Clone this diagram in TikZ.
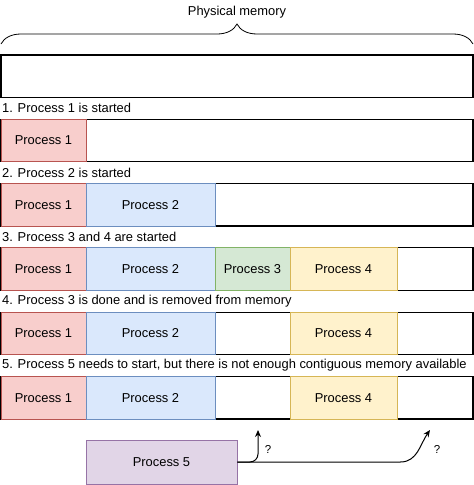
\documentclass[tikz,border=0pt]{standalone}
\usepackage{fontspec}
\setmainfont{Liberation Sans}
\usetikzlibrary{arrows.meta,decorations.pathreplacing}
\definecolor{redfill}{HTML}{F8CECC}\definecolor{redline}{HTML}{B85450}
\definecolor{bluefill}{HTML}{DAE8FC}\definecolor{blueline}{HTML}{6C8EBF}
\definecolor{greenfill}{HTML}{D5E8D4}\definecolor{greenline}{HTML}{82B366}
\definecolor{yellowfill}{HTML}{FFF2CC}\definecolor{yellowline}{HTML}{D6B656}
\definecolor{purplefill}{HTML}{E1D5E7}\definecolor{purpleline}{HTML}{9673A6}
\begin{document}
\begin{tikzpicture}[x=1pt,y=-1pt,
		font=\fontsize{12.9}{15}\selectfont,
		memrow/.style={draw=black,line width=1.2pt,minimum width=472pt,minimum height=42.5pt,inner sep=0pt},
		proc/.style={draw=#1line,fill=#1fill,line width=0.8pt,minimum height=42.5pt,inner sep=0pt},
		steplabel/.style={anchor=west,inner sep=0pt}]
			\useasboundingbox (0,0) rectangle (474,485);
			% physical memory
			\node(phys) at (237,12){Physical memory};
			\draw[black,line width=0.8pt,decorate,decoration={brace,amplitude=20pt}](1,44)--(473,44);
			\node[memrow](m0) at (237,76.25){};
			% 1
			\node[steplabel](s1) at (2,108.2){1. Process 1 is started};
			\node[memrow](m1) at (237,140.5){};
			\node[proc=red,minimum width=85pt](a1) at (43.5,140.5){Process 1};
			% 2
			\node[steplabel](s2) at (2,172.5){2. Process 2 is started};
			\node[memrow](m2) at (237,204.8){};
			\node[proc=red,minimum width=85pt](a2) at (43.5,204.8){Process 1};
			\node[proc=blue,minimum width=129pt](b2) at (150.5,204.8){Process 2};
			% 3
			\node[steplabel](s3) at (2,236.8){3. Process 3 and 4 are started};
			\node[memrow](m3) at (237,269.1){};
			\node[proc=red,minimum width=85pt](a3) at (43.5,269.1){Process 1};
			\node[proc=blue,minimum width=129pt](b3) at (150.5,269.1){Process 2};
			\node[proc=green,minimum width=75pt](c3) at (252.5,269.1){Process 3};
			\node[proc=yellow,minimum width=107pt](d3) at (343.5,269.1){Process 4};
			% 4
			\node[steplabel](s4) at (2,301.1){4. Process 3 is done and is removed from memory};
			\node[memrow](m4) at (237,333.4){};
			\node[proc=red,minimum width=85pt](a4) at (43.5,333.4){Process 1};
			\node[proc=blue,minimum width=129pt](b4) at (150.5,333.4){Process 2};
			\node[proc=yellow,minimum width=107pt](d4) at (343.5,333.4){Process 4};
			% 5
			\node[steplabel](s5) at (2,365.4){5. Process 5 needs to start, but there is not enough contiguous memory available};
			\node[memrow](m5) at (237,397.7){};
			\node[proc=red,minimum width=85pt](a5) at (43.5,397.7){Process 1};
			\node[proc=blue,minimum width=129pt](b5) at (150.5,397.7){Process 2};
			\node[proc=yellow,minimum width=107pt](d5) at (343.5,397.7){Process 4};
			\node[proc=purple,minimum width=151pt,minimum height=44pt](e5) at (161.5,462){Process 5};
			\coordinate(gap1) at (258,430);
			\coordinate(gap2) at (430,430);
			\draw[black,line width=1pt,-{Stealth[length=7pt,width=6pt]},rounded corners=8pt](e5.east)-|(gap1);
			\draw[black,line width=1pt,-{Stealth[length=7pt,width=6pt]}](e5.east)--++(163,0)to[out=0,in=-125](gap2);
			\node[font=\fontsize{11.5}{13}\selectfont](q1) at (268,449){?};
			\node[font=\fontsize{11.5}{13}\selectfont](q2) at (437,449){?};
		\end{tikzpicture}
\end{document}
